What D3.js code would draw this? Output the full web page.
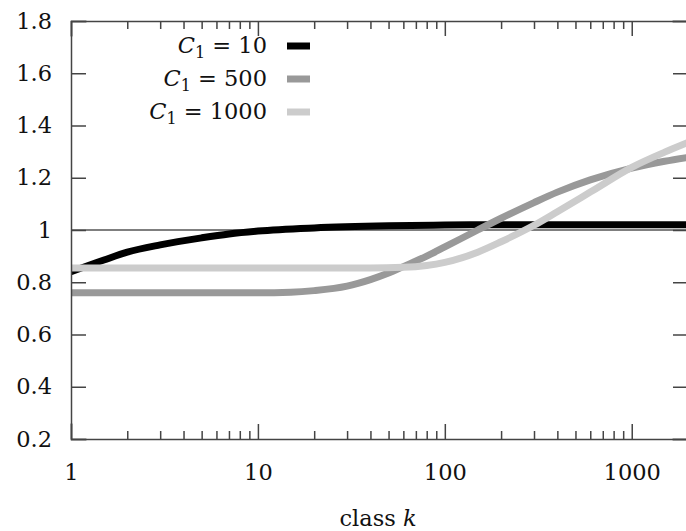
<!DOCTYPE html>
<html>
<head>
<meta charset="utf-8">
<script src="https://cdn.jsdelivr.net/npm/d3@7"></script>
<style>
  body { margin: 0; background: #fff; }
  svg { display: block; }
  .axis text { font-family: "DejaVu Serif", serif; font-size: 22.5px; fill: #111; }
  .axis path, .axis line { stroke: #444; stroke-width: 1.5; }
  .legend text { font-family: "DejaVu Serif", serif; font-size: 22.5px; fill: #111; }
</style>
</head>
<body>
<svg id="chart" width="686" height="531"></svg>
<script>
// ---- data ----
var kC10 = [1, 1.5, 2, 3, 5, 7, 10, 20, 50, 100, 200, 500, 1000, 2000];
var yC10 = [0.84, 0.885, 0.915, 0.943, 0.97, 0.985, 0.996, 1.008, 1.016, 1.019, 1.02, 1.02, 1.02, 1.02];

var kC500 = [1, 10, 15, 20, 30, 40, 50, 60, 80, 100, 150, 200, 300, 400, 600, 1000, 1500, 2000];
var yC500 = [0.76, 0.76, 0.762, 0.768, 0.785, 0.81, 0.835, 0.86, 0.9, 0.935, 1.0, 1.045, 1.105, 1.145, 1.192, 1.237, 1.263, 1.278];

var kC1000 = [1, 10, 40, 60, 80, 100, 150, 200, 300, 400, 600, 1000, 1500, 2000];
var yC1000 = [0.855, 0.855, 0.855, 0.857, 0.864, 0.876, 0.915, 0.955, 1.018, 1.07, 1.145, 1.24, 1.298, 1.335];

var seriesNames = ["10", "500", "1000"];
var seriesColors = ["#000000", "#999999", "#cccccc"];

var xMajor = [1, 10, 100, 1000];
var yTicks = [0.2, 0.4, 0.6, 0.8, 1.0, 1.2, 1.4, 1.6, 1.8];

// ---- layout ----
var margin = {left: 71, top: 21, right: 688, bottom: 439};
var svg = d3.select("#chart");

var x = d3.scaleLog().domain([1, 2000]).range([margin.left, margin.right]);
var y = d3.scaleLinear().domain([0.2, 1.8]).range([margin.bottom, margin.top]);

// minor ticks 2..9 per decade
var xMinor = [];
[1, 10, 100, 1000].forEach(function (d) {
    for (var m = 2; m <= 9; m++) { if (d * m <= 2000) xMinor.push(d * m); }
});

svg.append("clipPath").attr("id", "plotclip")
    .append("rect")
    .attr("x", margin.left).attr("y", margin.top)
    .attr("width", margin.right - margin.left)
    .attr("height", margin.bottom - margin.top);

// reference line at 1
svg.append("line")
    .attr("x1", margin.left).attr("x2", margin.right)
    .attr("y1", y(1)).attr("y2", y(1))
    .attr("stroke", "#000").attr("stroke-width", 1.2);

var series = [
    {k: kC10, v: yC10},
    {k: kC500, v: yC500},
    {k: kC1000, v: yC1000}
];

var line = d3.line()
    .x(function (d) { return x(d[0]); })
    .y(function (d) { return y(d[1]); })
    .curve(d3.curveMonotoneX);

var curves = svg.append("g").attr("clip-path", "url(#plotclip)");
series.forEach(function (s, i) {
    curves.append("path")
        .datum(d3.zip(s.k, s.v))
        .attr("d", line)
        .attr("fill", "none")
        .attr("stroke", seriesColors[i])
        .attr("stroke-width", 7);
});

// axes: ticks point inward on all four sides
svg.append("g").attr("class", "axis")
    .attr("transform", "translate(0," + margin.bottom + ")")
    .call(d3.axisBottom(x).tickValues(xMajor).tickSize(-15).tickPadding(25)
        .tickFormat(d3.format("d")));
svg.append("g").attr("class", "axis")
    .attr("transform", "translate(0," + margin.bottom + ")")
    .call(d3.axisBottom(x).tickValues(xMinor).tickSize(-8).tickFormat(""))
    .select(".domain").remove();
svg.append("g").attr("class", "axis")
    .attr("transform", "translate(0," + margin.top + ")")
    .call(d3.axisTop(x).tickValues(xMajor).tickSize(-15).tickFormat(""));
svg.append("g").attr("class", "axis")
    .attr("transform", "translate(0," + margin.top + ")")
    .call(d3.axisTop(x).tickValues(xMinor).tickSize(-8).tickFormat(""))
    .select(".domain").remove();
svg.append("g").attr("class", "axis")
    .attr("transform", "translate(" + margin.left + ",0)")
    .call(d3.axisLeft(y).tickValues(yTicks).tickSize(-15).tickPadding(19)
        .tickFormat(function (d) { return d === 1 ? "1" : d3.format(".1f")(d); }));
svg.append("g").attr("class", "axis")
    .attr("transform", "translate(" + margin.right + ",0)")
    .call(d3.axisRight(y).tickValues(yTicks).tickSize(-15).tickFormat(""));

svg.selectAll(".axis .domain").attr("stroke-linecap", "square");

// axis title
var xt = svg.append("text")
    .attr("x", 378).attr("y", 526)
    .attr("text-anchor", "middle")
    .style("font-family", "DejaVu Serif, serif").style("font-size", "22.5px").style("fill", "#111");
xt.append("tspan").text("class ");
xt.append("tspan").style("font-style", "italic").text("k");

// legend
var legend = svg.append("g").attr("class", "legend");
seriesNames.forEach(function (name, i) {
    var ly = 46 + i * 33;
    var t = legend.append("text")
        .attr("x", 267).attr("y", ly + 7)
        .attr("text-anchor", "end");
    t.append("tspan").style("font-style", "italic").text("C");
    t.append("tspan").attr("dy", 5).style("font-size", "16px").text("1");
    t.append("tspan").attr("dy", -5).text(" = " + name);
    legend.append("line")
        .attr("x1", 287).attr("x2", 310)
        .attr("y1", ly).attr("y2", ly)
        .attr("stroke", seriesColors[i]).attr("stroke-width", 7);
});
</script>
</body>
</html>
